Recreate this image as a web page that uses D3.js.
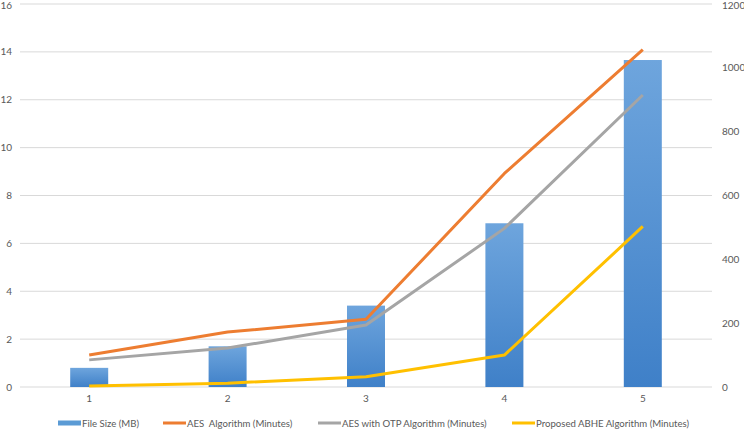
<!DOCTYPE html>
<html lang="en">
<head>
    <script src="https://d3js.org/d3.v7.min.js"></script>
    <style>
        body { margin: 0; background: #fff; }
        text { font-family: Lato, "Open Sans", sans-serif; fill: #595959; white-space: pre; }
    </style>
</head>
<body>
    <svg width="744" height="429"></svg>
    <script>
        const categories = ["1", "2", "3", "4", "5"];
        const fileSize = [0.8, 1.7, 3.4, 6.84, 13.66];
        const aes = [100, 172, 212, 669, 1057];
        const aesOtp = [85, 122, 194, 497, 915];
        const abhe = [3, 12, 32, 100, 503];
        const leftTicks = [0, 2, 4, 6, 8, 10, 12, 14, 16];
        const rightTicks = [0, 200, 400, 600, 800, 1000, 1200];

        const series = [
            {name: "AES  Algorithm (Minutes)", values: aes, color: "#ed7d31"},
            {name: "AES with OTP Algorithm (Minutes)", values: aesOtp, color: "#a5a5a5"},
            {name: "Proposed ABHE Algorithm (Minutes)", values: abhe, color: "#ffc000"}
        ];

        const svg = d3.select("svg");
        const x = d3.scaleBand().domain(categories).range([20, 712]);
        const yL = d3.scaleLinear().domain([0, 16]).range([387, 4]);
        const yR = d3.scaleLinear().domain([0, 1200]).range([387, 4]);

        const defs = svg.append("defs");
        const grad = defs.append("linearGradient")
            .attr("id", "barGrad").attr("x1", 0).attr("y1", 0).attr("x2", 0).attr("y2", 1);
        grad.append("stop").attr("offset", "0%").attr("stop-color", "#6ea5dd");
        grad.append("stop").attr("offset", "100%").attr("stop-color", "#3f80c8");

        // gridlines
        svg.append("g")
            .selectAll("line")
            .data(leftTicks)
            .join("line")
            .attr("x1", 20).attr("x2", 712)
            .attr("y1", d => yL(d)).attr("y2", d => yL(d))
            .attr("stroke", "#d9d9d9").attr("stroke-width", 1);

        // left axis labels
        svg.append("g")
            .selectAll("text")
            .data(leftTicks)
            .join("text")
            .attr("x", 12).attr("y", d => Math.max(yL(d) + 3.5, 9))
            .attr("text-anchor", "end")
            .attr("font-size", 10)
            .text(d => d);

        // right axis labels
        svg.append("g")
            .selectAll("text")
            .data(rightTicks)
            .join("text")
            .attr("x", 722).attr("y", d => Math.max(yR(d) + 3.5, 9))
            .attr("font-size", 10)
            .text(d => d);

        // bars
        const barW = 38;
        svg.append("g")
            .selectAll("rect")
            .data(fileSize)
            .join("rect")
            .attr("x", (d, i) => x(categories[i]) + x.bandwidth() / 2 - barW / 2)
            .attr("y", d => yL(d))
            .attr("width", barW)
            .attr("height", d => yL(0) - yL(d))
            .attr("fill", "url(#barGrad)");

        // lines
        const line = d3.line()
            .x((d, i) => x(categories[i]) + x.bandwidth() / 2)
            .y(d => yR(d));

        svg.append("g")
            .selectAll("path")
            .data(series)
            .join("path")
            .attr("d", d => line(d.values))
            .attr("fill", "none")
            .attr("stroke", d => d.color)
            .attr("stroke-width", 3)
            .attr("stroke-linejoin", "round");

        // category labels
        svg.append("g")
            .selectAll("text")
            .data(categories)
            .join("text")
            .attr("x", d => x(d) + x.bandwidth() / 2)
            .attr("y", 402)
            .attr("text-anchor", "middle")
            .attr("font-size", 10)
            .text(d => d);

        // legend
        const legend = [
            {name: "File Size (MB)", color: "#5b9bd5", bar: true, x: 58},
            {name: series[0].name, color: series[0].color, x: 163},
            {name: series[1].name, color: series[1].color, x: 318},
            {name: series[2].name, color: series[2].color, x: 512}
        ];
        const lg = svg.append("g")
            .selectAll("g")
            .data(legend)
            .join("g")
            .attr("transform", d => `translate(${d.x},423)`);
        lg.append("rect")
            .attr("x", 0).attr("y", d => d.bar ? -2.5 : -1.5)
            .attr("width", 23).attr("height", d => d.bar ? 5 : 3)
            .attr("fill", d => d.color);
        lg.append("text")
            .attr("x", 24).attr("y", 3.5)
            .attr("font-size", 9.6)
            .text(d => d.name);
    </script>
</body>
</html>
